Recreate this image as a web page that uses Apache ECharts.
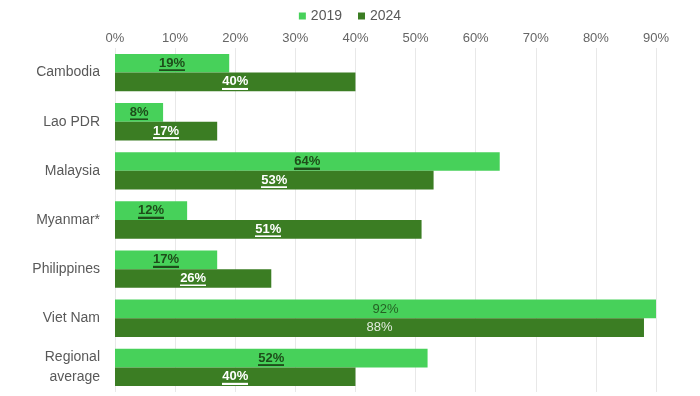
<!DOCTYPE html>
<html>
<head>
<meta charset="utf-8">
<script src="https://cdn.jsdelivr.net/npm/echarts@6/dist/echarts.min.js"></script>
<style>
  html, body { margin: 0; padding: 0; background: #fff; }
  #chart { width: 700px; height: 396px; }
</style>
</head>
<body>
<div id="chart"></div>
<script>
let categories = ['Cambodia', 'Lao PDR', 'Malaysia', 'Myanmar*', 'Philippines', 'Viet Nam', 'Regional\naverage'];
let values2019 = [19, 8, 64, 12, 17, 92, 52];
let values2024 = [40, 17, 53, 51, 26, 88, 40];
let tickValues = [0, 10, 20, 30, 40, 50, 60, 70, 80, 90];
// Viet Nam has no underline in the source
let plainLabels = ['Viet Nam'];

let light = '#47d15a';
let dark = '#3b7d23';

// small canvas with a line at the bottom, stretched behind the label text as an underline
function underline(color) {
    let c = document.createElement('canvas');
    c.width = 4;
    c.height = 16;
    let ctx = c.getContext('2d');
    ctx.fillStyle = color;
    ctx.fillRect(0, 14, 4, 2);
    return c;
}

function makeSeries(name, values, color, textColor) {
    return {
        type: 'bar',
        name: name,
        data: values,
        barGap: '0%',
        barCategoryGap: '24%',
        itemStyle: { color: color },
        label: {
            show: true,
            position: 'inside',
            formatter: function (p) {
                let tag = plainLabels.indexOf(p.name) >= 0 ? 'p' : 'u';
                return '{' + tag + '|' + p.value + '%}';
            },
            rich: {
                u: {
                    color: textColor,
                    fontSize: 13,
                    fontWeight: 'bold',
                    fontFamily: 'Liberation Sans',
                    height: 16,
                    backgroundColor: { image: underline(textColor) }
                },
                p: {
                    color: textColor,
                    fontSize: 13,
                    fontFamily: 'Liberation Sans',
                    opacity: 0.85
                }
            }
        }
    };
}

echarts.init(document.getElementById('chart')).setOption({
    animation: false,
    textStyle: { fontFamily: 'Liberation Sans' },
    legend: {
        top: 4,
        left: 'center',
        itemWidth: 7,
        itemHeight: 7,
        itemGap: 16,
        icon: 'rect',
        textStyle: { color: '#595959', fontSize: 14 },
        data: ['2019', '2024']
    },
    grid: {
        left: 115,
        right: 44,
        top: 48,
        bottom: 4,
        containLabel: false
    },
    xAxis: {
        type: 'value',
        position: 'top',
        min: tickValues[0],
        max: tickValues[tickValues.length - 1],
        interval: 10,
        axisLine: { show: false },
        axisTick: { show: false },
        axisLabel: {
            color: '#666',
            fontSize: 13,
            margin: 3,
            formatter: function (v) { return v + '%'; }
        },
        splitLine: { lineStyle: { color: '#e8e8e8' } }
    },
    yAxis: {
        type: 'category',
        data: categories,
        inverse: true,
        axisLine: { show: false },
        axisTick: { show: false },
        axisLabel: {
            color: '#595959',
            fontSize: 14,
            margin: 15,
            lineHeight: 20
        }
    },
    series: [
        makeSeries('2019', values2019, light, '#1e4d1a'),
        makeSeries('2024', values2024, dark, '#ffffff')
    ]
});
</script>
</body>
</html>
